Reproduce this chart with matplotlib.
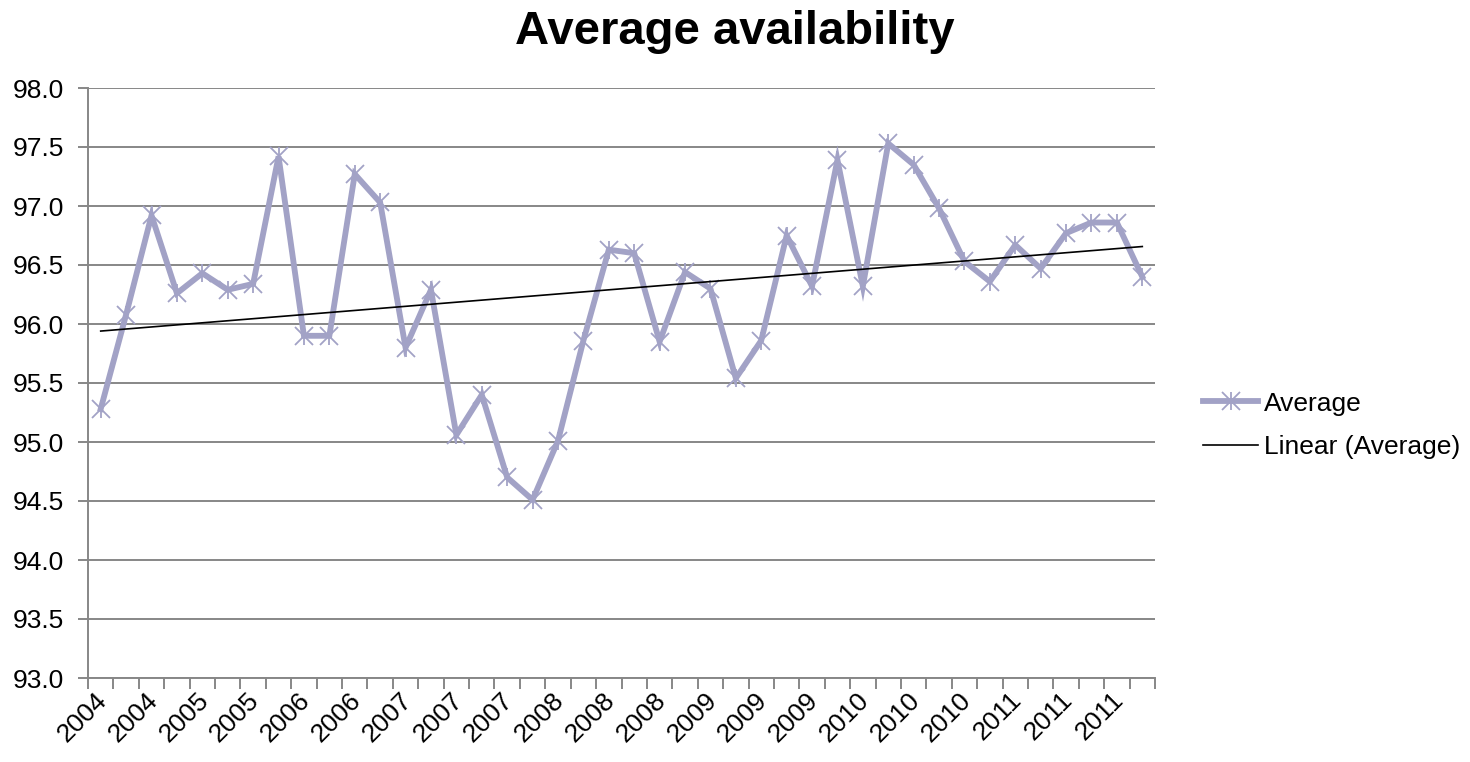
import numpy as np
import matplotlib.pyplot as plt
import matplotlib.transforms as mtransforms
from matplotlib.lines import Line2D

plt.rcParams['font.family'] = ['Liberation Sans', 'DejaVu Sans']

# Average availability per period (%)
average = [95.28, 96.08, 96.92, 96.26, 96.43, 96.29, 96.34, 97.42, 95.90, 95.90,
           97.27, 97.03, 95.80, 96.29, 95.06, 95.40, 94.70, 94.51, 95.01, 95.86,
           96.63, 96.60, 95.85, 96.44, 96.30, 95.54, 95.86, 96.75, 96.32, 97.39,
           96.32, 97.53, 97.35, 96.98, 96.53, 96.36, 96.67, 96.47, 96.77, 96.86,
           96.86, 96.40]

# Year labels shown on every second category
tick_labels = ['2004', '2004', '2005', '2005', '2006', '2006', '2007', '2007',
               '2007', '2008', '2008', '2008', '2009', '2009', '2009', '2010',
               '2010', '2010', '2011', '2011', '2011']

y_ticks = [93.0, 93.5, 94.0, 94.5, 95.0, 95.5, 96.0, 96.5, 97.0, 97.5, 98.0]

line_color = '#A2A2C6'
grid_color = '#878787'

x = np.arange(len(average))

fig = plt.figure(figsize=(14.7, 7.62), dpi=100)
ax = fig.add_axes([88 / 1470, 1 - 678 / 762, (1155 - 88) / 1470, (678 - 88) / 762])

# linear trendline fitted over the series
slope, intercept = np.polyfit(x, average, 1)
trend = slope * x + intercept

ax.plot(x, average, color=line_color, lw=4.2, solid_joinstyle='miter', zorder=3)
ax.plot(x, average, ls='none', marker='x', ms=13.5, mew=1.3, color=line_color, zorder=4)
ax.plot(x, average, ls='none', marker='|', ms=13.5, mew=1.3, color=line_color, zorder=4)
ax.plot(x, trend, color='black', lw=1.2, zorder=5)

ax.set_xlim(-0.5, len(average) - 0.5)
ax.set_ylim(93.0, 98.0)
ax.set_yticks(y_ticks)
ax.set_yticklabels([f'{v:.1f}' for v in y_ticks])
ax.yaxis.grid(True, color=grid_color, lw=1.4)
ax.set_axisbelow(True)

ax.set_xticks(x[::2])
ax.set_xticklabels(tick_labels, rotation=45, ha='right', va='top',
                   rotation_mode='anchor')
ax.set_xticks(np.arange(-0.5, len(average), 1.0), minor=True)
ax.tick_params(axis='x', which='major', length=0, pad=7, labelsize=19)
ax.tick_params(axis='x', which='minor', length=8, width=1.4, color=grid_color)
ax.tick_params(axis='y', length=7, width=1.4, color=grid_color, labelsize=19, pad=10)

# nudge the slanted year labels slightly left
shift = mtransforms.ScaledTranslation(-6 / 100, 0, fig.dpi_scale_trans)
for lbl in ax.get_xticklabels():
    lbl.set_transform(lbl.get_transform() + shift)

for side in ('top', 'right'):
    ax.spines[side].set_visible(False)
for side in ('left', 'bottom'):
    ax.spines[side].set_color(grid_color)
    ax.spines[side].set_linewidth(1.4)

fig.text(0.5, 1 - 32 / 762, 'Average availability', ha='center', va='center',
         fontsize=34, fontweight='bold')

avg_handle = (Line2D([], [], color=line_color, lw=4.2),
              Line2D([], [], ls='none', marker='x', ms=13.5, mew=1.3, color=line_color),
              Line2D([], [], ls='none', marker='|', ms=13.5, mew=1.3, color=line_color))
trend_handle = Line2D([], [], color='black', lw=1.2)
fig.legend([avg_handle, trend_handle], ['Average', 'Linear (Average)'],
           loc='center left', bbox_to_anchor=(1203 / 1470, 1 - 425.5 / 762),
           frameon=False, fontsize=19, handlelength=2.1, handletextpad=0.2,
           borderpad=0, borderaxespad=0, labelspacing=0.75)

fig.savefig('out.png', dpi=100)
